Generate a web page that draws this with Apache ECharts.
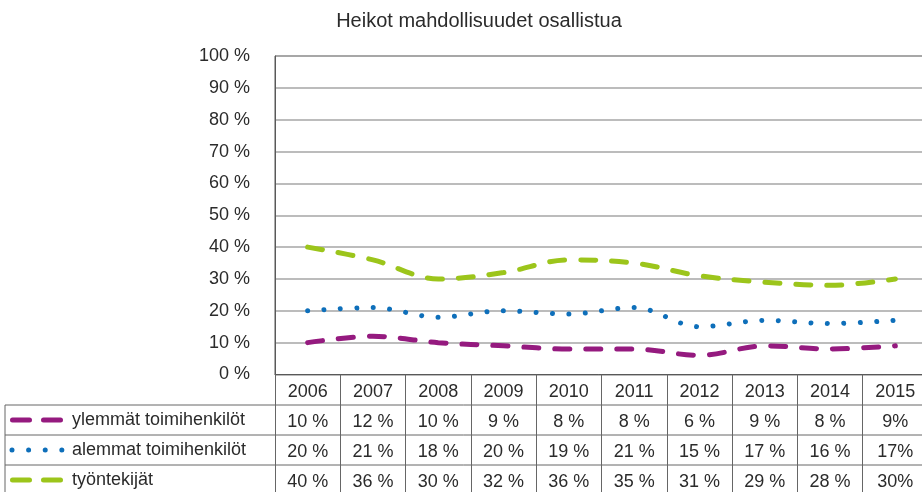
<!DOCTYPE html>
<html>
<head>
<meta charset="UTF-8">
<title>Heikot mahdollisuudet osallistua</title>
<style type="text/css">
   body{ margin:0; background-color:#ffffff; }
   #container{ width:922px; height:492px; }
</style>
</head>
<body>
<div id="container"></div>
<script src="https://cdn.jsdelivr.net/npm/echarts@6/dist/echarts.min.js"></script>
<script type="text/javascript">
var years = ['2006','2007','2008','2009','2010','2011','2012','2013','2014','2015'];
var ylemmat = [10, 12, 10, 9, 8, 8, 6, 9, 8, 9];
var alemmat = [20, 21, 18, 20, 19, 21, 15, 17, 16, 17];
var tyontekijat = [40, 36, 30, 32, 36, 35, 31, 29, 28, 30];
var seriesNames = ['ylemmät toimihenkilöt', 'alemmat toimihenkilöt', 'työntekijät'];
var yTicks = [0, 10, 20, 30, 40, 50, 60, 70, 80, 90, 100];

var colors = ['#951a7f', '#0e6fba', '#9cc51b'];
var dashes = [[15, 16], [0.01, 16.4], [15, 16]];
var font = '"Liberation Sans", Arial, sans-serif';
var textColor = '#2b2b2b';

function pct(v, i){
    // the last column of the source table has no space before %
    return i === years.length - 1 ? v + '%' : v + ' %';
}

var dom = document.getElementById('container');
var myChart = echarts.init(dom);

var rows = [ylemmat, alemmat, tyontekijat];
var graphics = [];
// table horizontal rules
[405, 435, 465].forEach(function(y){
    graphics.push({ type:'line', shape:{x1:5, y1:y, x2:922, y2:y}, style:{stroke:'#666', lineWidth:1} });
});
graphics.push({ type:'line', shape:{x1:5, y1:405, x2:5, y2:492}, style:{stroke:'#666', lineWidth:1} });
// legend keys in first table column
for (var r = 0; r < 3; r++) {
    var cy = 420 + r * 30;
    graphics.push({
        type:'line',
        shape:{x1: r === 1 ? 12 : 12.5, y1:cy, x2: r === 1 ? 62 : 60.5, y2:cy},
        style:{stroke:colors[r], lineWidth:5, lineCap:'round', lineDash: r === 1 ? [0.01, 16.6] : [17, 14]}
    });
    graphics.push({
        type:'text', x:72, y:cy,
        style:{text:seriesNames[r], fontSize:18, fontFamily:font, fill:textColor, verticalAlign:'middle'}
    });
}

var option = {
    animation: false,
    title: {
        text: 'Heikot mahdollisuudet osallistua',
        left: 474, top: 6, textAlign: 'center',
        textStyle: { fontSize: 20, fontWeight: 'normal', fontFamily: font, color: textColor }
    },
    grid: {
        left: 275, top: 56, width: 653, height: 318.5,
        outerBoundsMode: 'none', containLabel: false,
        show: true, borderColor: '#595959', borderWidth: 1
    },
    xAxis: {
        type: 'category',
        data: years,
        boundaryGap: true,
        axisLine: { lineStyle: { color: '#595959', width: 1 } },
        axisTick: { show: true, length: 118, interval: 0, lineStyle: { color: '#666', width: 1 } },
        axisLabel: {
            interval: 0, margin: 3, fontSize: 18, lineHeight: 30, fontFamily: font, color: textColor,
            formatter: function(value, index){
                return [value, pct(ylemmat[index], index), pct(alemmat[index], index), pct(tyontekijat[index], index)].join('\n');
            }
        }
    },
    yAxis: {
        type: 'value',
        min: yTicks[0], max: yTicks[yTicks.length - 1], interval: 10,
        axisLine: { show: true, lineStyle: { color: '#595959', width: 1 } },
        axisTick: { show: false },
        splitLine: { lineStyle: { color: '#a6a6a6', width: 1.5 } },
        axisLabel: { formatter: '{value} %', fontSize: 18, margin: 25, fontFamily: font, color: textColor }
    },
    series: rows.map(function(d, i){
        return {
            name: seriesNames[i],
            type: 'line',
            data: d,
            smooth: 0.35,
            showSymbol: false,
            lineStyle: { color: colors[i], width: 5, type: dashes[i], cap: 'round' },
            z: 3 - i + 2
        };
    }),
    graphic: graphics
};
myChart.setOption(option);
</script>
</body>
</html>
